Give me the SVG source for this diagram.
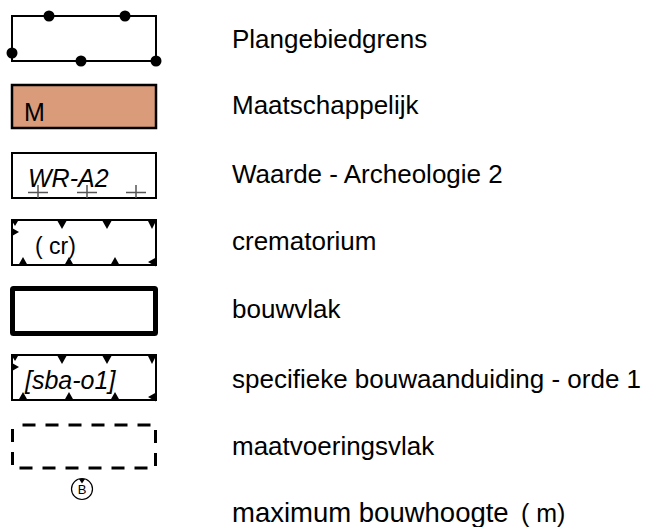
<svg xmlns="http://www.w3.org/2000/svg" width="647" height="527" viewBox="0 0 647 527">
<style>
.lbl{font-family:"Liberation Sans",Arial,sans-serif;font-size:26px;fill:#000;white-space:pre}
.box{fill:#fff;stroke:#000;stroke-width:2}
.it{font-family:"Liberation Sans",Arial,sans-serif;font-style:italic;font-size:25px;fill:#000}
.tri{fill:#000}
</style>
<rect width="647" height="527" fill="#fff"/>
<g id="plangebied">
<rect class="box" x="12" y="16" width="144" height="45"/>
<circle cx="49" cy="16" r="5.5"/><circle cx="125" cy="16" r="5.5"/><circle cx="12" cy="53" r="5.5"/><circle cx="81" cy="61" r="5.5"/><circle cx="156" cy="61" r="5.5"/>
</g>
<g id="maatschappelijk">
<rect x="12" y="85" width="144" height="43" fill="#DA9B7A" stroke="#000" stroke-width="2.5"/>
<text class="lbl" x="24" y="121" style="font-size:25px">M</text>
</g>
<g id="archeologie">
<rect class="box" x="12" y="153" width="144" height="45"/>
<text class="it" x="28" y="187">WR-A2</text>
<g stroke="#555" stroke-width="1.5">
<path d="M28 192.5H48M38 185V198M77 192.5H97M87 185V198M126 192.5H146M136 185V198"/>
</g>
</g>
<g id="crematorium">
<rect class="box" x="12" y="220" width="144" height="45"/>
<path class="tri" d="M57.5 221h9l-4.5 8zM102.5 221h9l-4.5 8zM148 221h8l-4 8zM12 221h6l-3 5zM12 228l7 4-7 4zM18.5 265l4.5-8 4.5 8zM64.5 265l4.5-8 4.5 8zM110.5 265l4.5-8 4.5 8zM156 257.5v9l-8-4.5z"/>
<text class="lbl" x="35" y="254" style="font-size:23px">( cr)</text>
</g>
<g id="bouwvlak">
<rect x="12.5" y="288.5" width="143" height="45" fill="#fff" stroke="#000" stroke-width="5" rx="1"/>
</g>
<g id="sba">
<rect class="box" x="12" y="355" width="144" height="45"/>
<path class="tri" d="M57.5 356h9l-4.5 8zM102.5 356h9l-4.5 8zM148 356h8l-4 8zM12 356h6l-3 5zM12 363l7 4-7 4zM18.5 400l4.5-8 4.5 8zM64.5 400l4.5-8 4.5 8zM110.5 400l4.5-8 4.5 8zM156 392.5v9l-8-4.5z"/>
<text class="it" x="25" y="389">[sba-o1]</text>
</g>
<g id="maatvoering">
<rect x="12.5" y="425" width="143" height="43" fill="none" stroke="#000" stroke-width="3" stroke-dasharray="13 10" stroke-dashoffset="-10"/>
</g>
<g id="bouwhoogte">
<circle cx="82" cy="489" r="10.5" fill="none" stroke="#000" stroke-width="1.2"/>
<path d="M79 479h6l-3 4.5z"/>
<text x="82" y="494" text-anchor="middle" font-family="Liberation Sans,Arial,sans-serif" font-size="13">B</text>
</g>
<g id="labels">
<text class="lbl" x="232" y="48">Plangebiedgrens</text>
<text class="lbl" x="232" y="114">Maatschappelijk</text>
<text class="lbl" x="232" y="183">Waarde - Archeologie 2</text>
<text class="lbl" x="232" y="250">crematorium</text>
<text class="lbl" x="232" y="318">bouwvlak</text>
<text class="lbl" x="232" y="388">specifieke bouwaanduiding - orde 1</text>
<text class="lbl" x="232" y="455">maatvoeringsvlak</text>
<text class="lbl" x="232" y="522" style="font-size:27.5px">maximum bouwhoogte <tspan x="521" style="font-size:25px">( m)</tspan></text>
</g>
</svg>
